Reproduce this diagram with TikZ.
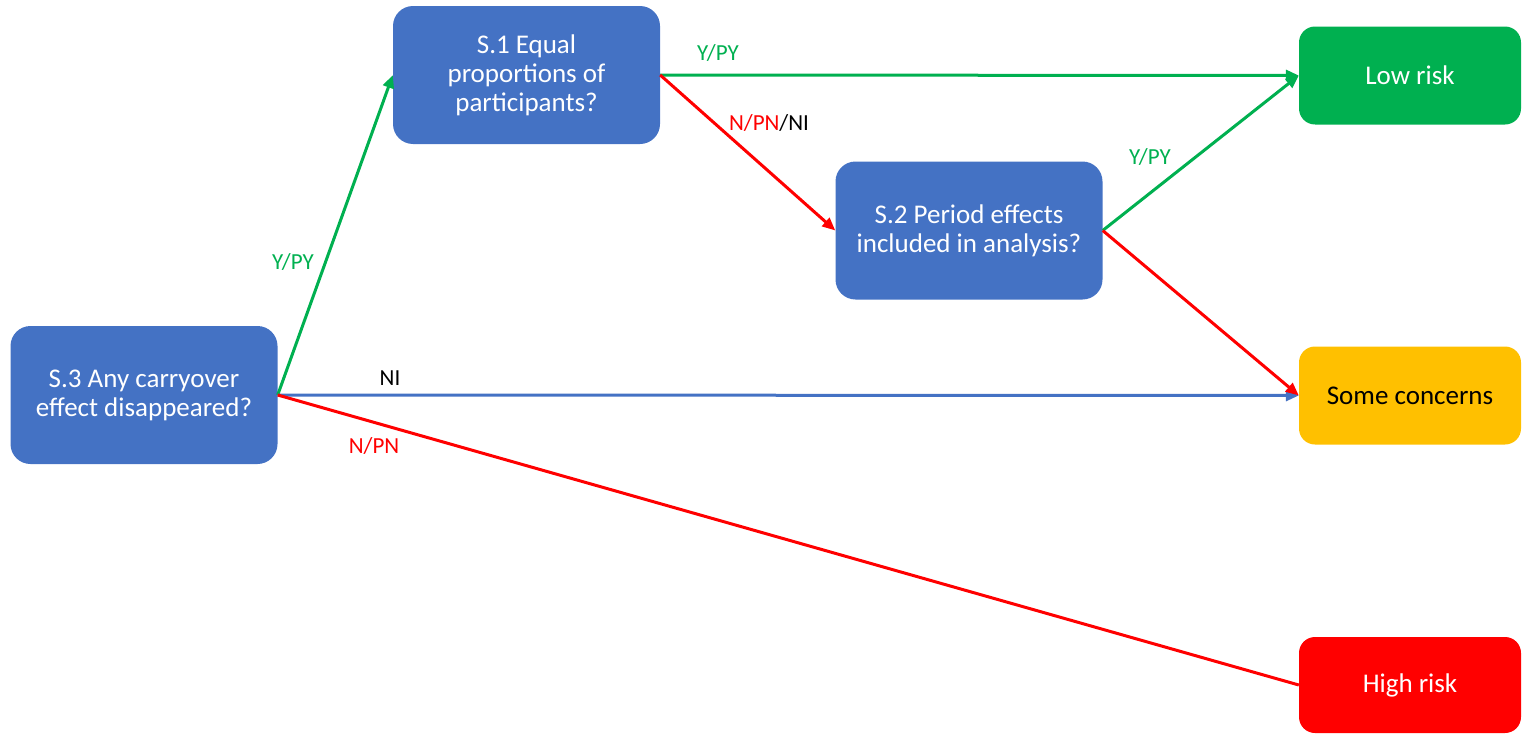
\documentclass[tikz,border=0pt]{standalone}
\usepackage{fontspec}
\setmainfont{Carlito}
\usetikzlibrary{arrows.meta}
\definecolor{boxblue}{HTML}{4472C4}
\definecolor{okgreen}{HTML}{00B050}
\definecolor{warnyellow}{HTML}{FFC000}
\definecolor{badred}{HTML}{FF0000}
\begin{document}
\begin{tikzpicture}[x=1pt,y=1pt,
  qbox/.style={rectangle, rounded corners=20pt, fill=boxblue, text=white, align=center, inner sep=0pt,
    minimum width=267pt, minimum height=138pt, font=\fontsize{27}{29}\selectfont},
  rbox/.style={rectangle, rounded corners=16pt, inner sep=0pt, align=center,
    minimum width=222pt, minimum height=98pt, font=\fontsize{27}{29}\selectfont},
  conn/.style={line width=3pt, -{Triangle[length=13pt,width=11pt]}},
  lbl/.style={font=\fontsize{23}{26}\selectfont, inner sep=0pt}
]
\useasboundingbox (0,0) rectangle (1522,-736);
\node[qbox] (s1) at (526.5,-75) {S.1 Equal\\proportions of\\participants?};
\node[qbox] (s2) at (969,-230.5) {S.2 Period effects\\included in analysis?};
\node[qbox] (s3) at (144,-395) {S.3 Any carryover\\effect disappeared?};
\node[rbox, fill=okgreen, text=white] (low) at (1410,-75.5) {Low risk};
\node[rbox, fill=warnyellow, text=black] (some) at (1410,-395.5) {Some concerns};
\node[rbox, fill=badred, text=white, minimum height=96pt] (high) at (1410,-685) {High risk};

\draw[conn, okgreen] (s3.east) -- (s1.west);
\draw[conn, boxblue] (s3.east) -- (some.west);
\draw[line width=3pt, badred] (s3.east) -- (high.west);
\draw[conn, okgreen] (s1.east) -- (low.west);
\draw[conn, badred] (s1.east) -- (s2.west);
\draw[conn, okgreen] (s2.east) -- (low.west);
\draw[conn, badred] (s2.east) -- (some.west);

\node[lbl, text=okgreen] (l1) at (293,-262) {Y/PY};
\node[lbl, text=okgreen] (l2) at (718,-53) {Y/PY};
\node[lbl] (l3) at (769,-123) {\textcolor{badred}{N/PN}/NI};
\node[lbl, text=okgreen] (l4) at (1150,-157) {Y/PY};
\node[lbl] (l5) at (390,-378) {NI};
\node[lbl, text=badred] (l6) at (374,-446) {N/PN};
\end{tikzpicture}
\end{document}
